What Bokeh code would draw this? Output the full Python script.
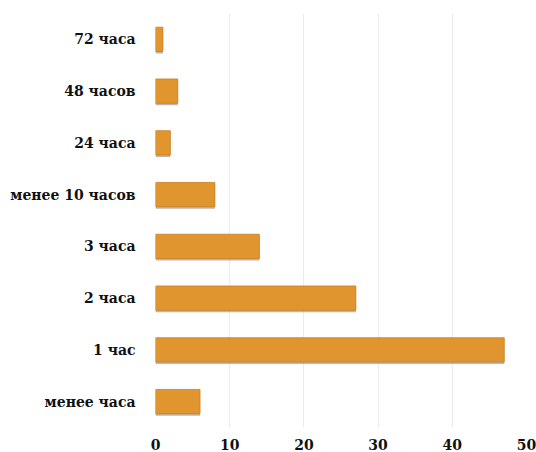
from bokeh.plotting import figure
from bokeh.embed import file_html
from bokeh.resources import INLINE
from bokeh.models import ColumnDataSource, FixedTicker
from bokeh.transform import dodge

categories = ["менее часа", "1 час", "2 часа", "3 часа", "менее 10 часов", "24 часа", "48 часов", "72 часа"]
values = [6, 47, 27, 14, 8, 2, 3, 1]
x_ticks = [0, 10, 20, 30, 40, 50]

src = ColumnDataSource(dict(cat=categories, val=values))

p = figure(width=536, height=452, y_range=categories, x_range=(0, 50),
           output_backend="svg", toolbar_location=None,
           min_border_left=155, min_border_right=10, min_border_top=13, min_border_bottom=20)

# shadow
p.hbar(y=dodge("cat", -0.04, range=p.y_range), right="val", left=0, height=0.47, source=src,
       fill_color="#8a7a70", line_color=None, fill_alpha=0.55)
p.hbar(y="cat", right="val", left=0, height=0.47, source=src,
       fill_color="#E1952F", line_color="#c97f20", line_width=0.8)

p.outline_line_color = None
p.xgrid.grid_line_color = "#ececec"
p.ygrid.grid_line_color = None
p.xaxis.ticker = FixedTicker(ticks=x_ticks)
p.xaxis.axis_line_color = None
p.xaxis.major_tick_line_color = None
p.xaxis.minor_tick_line_color = None
p.yaxis.axis_line_color = None
p.yaxis.major_tick_line_color = None
p.yaxis.minor_tick_line_color = None
for ax in (p.xaxis, p.yaxis):
    ax.major_label_text_font = "DejaVu Serif"
    ax.major_label_text_font_style = "bold"
    ax.major_label_text_font_size = "14px"
    ax.major_label_text_color = "#111111"
p.yaxis.major_label_standoff = 14
p.xaxis.major_label_standoff = 5

open("out.html", "w").write(file_html(p, INLINE))
